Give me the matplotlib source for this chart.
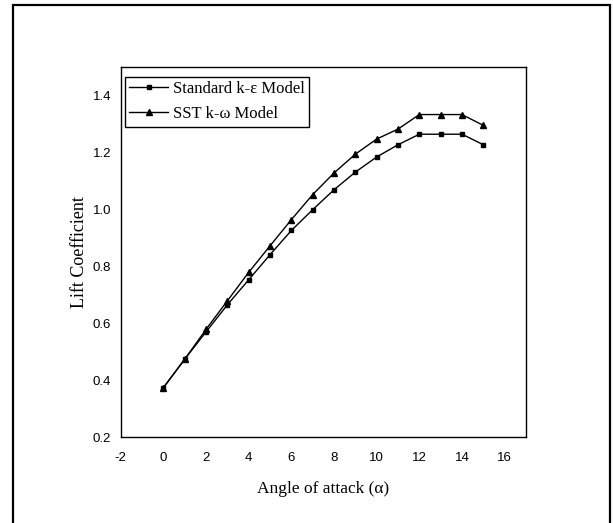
import matplotlib
matplotlib.use("Agg")
import matplotlib.pyplot as plt
from matplotlib.patches import Rectangle

angle = [0, 1, 2, 3, 4, 5, 6, 7, 8, 9, 10, 11, 12, 13, 14, 15]
standard_ke = [0.373, 0.473, 0.569, 0.664, 0.752, 0.840, 0.925, 0.998,
               1.068, 1.130, 1.183, 1.226, 1.263, 1.263, 1.263, 1.226]
sst_kw = [0.373, 0.473, 0.578, 0.678, 0.778, 0.871, 0.963, 1.051,
          1.127, 1.193, 1.246, 1.281, 1.332, 1.332, 1.332, 1.294]
xticks = [-2, 0, 2, 4, 6, 8, 10, 12, 14, 16]
yticks = [0.2, 0.4, 0.6, 0.8, 1.0, 1.2, 1.4]

W, H = 613, 523
fig = plt.figure(figsize=(W / 100, H / 100), dpi=100)
fig.patch.set_facecolor("white")

# outer frame
fig.patches.append(Rectangle((13 / W, -0.02), (610 - 13) / W, 1 - 5 / H + 0.02,
                             transform=fig.transFigure, fill=False,
                             edgecolor="black", linewidth=1.6, zorder=0))

ax = fig.add_axes([120.7 / W, 1 - 437 / H, (526 - 120.7) / W, (437 - 66.7) / H])
ax.plot(angle, standard_ke, color="black", lw=1.0, marker="s", markersize=3.5,
        label="Standard k-ε Model")
ax.plot(angle, sst_kw, color="black", lw=1.0, marker="^", markersize=4,
        label="SST k-ω Model")

ax.set_xlim(-2, 17)
ax.set_ylim(0.2, 1.5)
ax.set_xticks(xticks)
ax.set_yticks(yticks)
ax.set_xticklabels([str(t) for t in xticks], family="Liberation Sans", fontsize=9.5)
ax.set_yticklabels([f"{t:.1f}" for t in yticks], family="Liberation Sans", fontsize=9.5)
ax.tick_params(axis="both", length=0)
ax.tick_params(axis="x", pad=11)
ax.tick_params(axis="y", pad=7)
for s in ax.spines.values():
    s.set_linewidth(1.0)
    s.set_color("black")

ax.set_xlabel("Angle of attack (α)", family="Liberation Serif", fontsize=12.5, labelpad=12)
ax.set_ylabel("Lift Coefficient", family="Liberation Serif", fontsize=13, labelpad=3)

leg = ax.legend(loc="upper left", bbox_to_anchor=(0.0106, 0.973), borderaxespad=0,
                prop={"family": "Liberation Serif", "size": 12}, frameon=True,
                fancybox=False, edgecolor="black", framealpha=1,
                handlelength=2.3, handletextpad=0.3, borderpad=0.27, labelspacing=0.53)
leg.get_frame().set_linewidth(1.0)

fig.savefig("out.png", dpi=100, facecolor="white")
